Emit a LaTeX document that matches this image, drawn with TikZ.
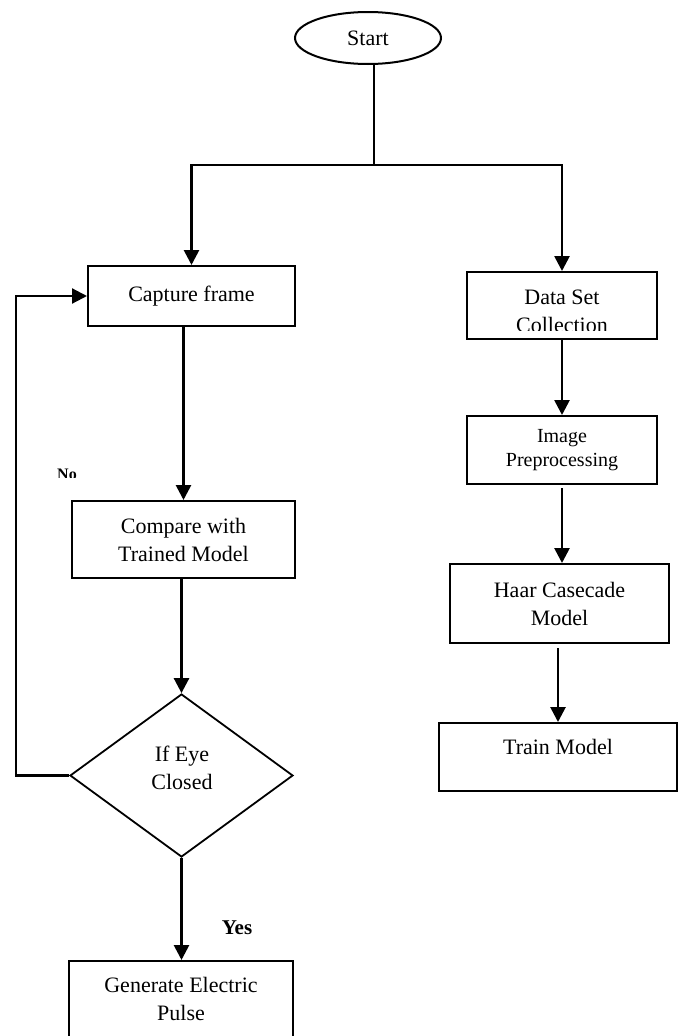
\documentclass[tikz,border=0pt]{standalone}
\usepackage{fontspec}
\setmainfont{Liberation Serif}
\usetikzlibrary{arrows.meta,shapes.geometric}
\begin{document}
\begin{tikzpicture}[x=1pt,y=-1pt,
  box/.style={draw, line width=2pt, rectangle, inner sep=0pt},
  txt/.style={font=\fontsize{22}{28}\selectfont, align=center, inner sep=0pt},
  smalltxt/.style={font=\fontsize{20}{24}\selectfont, align=center, inner sep=0pt},
  conn/.style={line width=2.7pt},
  arr/.style={conn, -{Triangle[width=15pt,length=15pt]}},
  looparr/.style={line width=2.2pt, -{Triangle[width=15pt,length=15pt]}},
  lbl/.style={font=\bfseries\fontsize{21}{25}\selectfont, inner sep=0pt}]
\useasboundingbox (0,0) rectangle (680,1036);
\clip (0,0) rectangle (680,1036);

% shapes
\node[draw, ellipse, line width=2pt, minimum width=146pt, minimum height=52pt, inner sep=0pt, txt] (start) at (368,38) {Start};
\node[box, minimum width=207pt, minimum height=60pt, txt] (capture) at (191.5,296) {Capture frame};
\node[box, minimum width=190pt, minimum height=67pt] (dataset) at (562,305.5) {};
\begin{scope}
  \clip (470,274) rectangle (655,330);
  \node[txt] (datasettext) at (562,311) {Data Set\\Collection};
\end{scope}
\node[box, minimum width=190pt, minimum height=68pt, smalltxt] (image) at (562,450) {Image\\Preprocessing};
\node[box, minimum width=219pt, minimum height=79pt, txt] (haar) at (559.5,603.5) {Haar Casecade\\Model};
\node[box, minimum width=238pt, minimum height=68pt] (train) at (558,757) {};
\node[txt] (traintext) at (558,747) {Train Model};
\node[box, minimum width=223pt, minimum height=77pt, txt] (compare) at (183.5,539.5) {Compare with\\Trained Model};
\node[draw, diamond, line width=1.8pt, minimum width=223pt, minimum height=163pt, inner sep=0pt] (decision) at (181.5,775.5) {};
\node[txt] (decisiontext) at (182,768) {If Eye\\Closed};
\node[box, minimum width=224pt, minimum height=89pt] (generate) at (181,1005.5) {};
\node[txt] (generatetext) at (181,999) {Generate Electric\\Pulse};

% labels
\begin{scope}
  \clip (40,455) rectangle (110,477);
  \node[font=\bfseries\fontsize{16}{20}\selectfont, inner sep=0pt, anchor=base] (nolabel) at (67,479) {No};
\end{scope}
\node[lbl] (yeslabel) at (237,928) {Yes};

% connectors
\coordinate (jn) at (374,165);
\draw[conn] (start.south -| jn) -- (jn);
\draw[arr] (jn) -| (capture.north);
\draw[arr] (jn) -| (dataset.north);
\draw[arr] (dataset.south) -- (dataset.south |- image.north);
\draw[arr, shorten <=3pt] (image.south) -- (image.south |- haar.north);
\draw[arr, shorten <=4pt] (haar.south -| train.north) -- (train.north);
\draw[arr] (compare.north |- capture.south) -- (compare.north);
\draw[arr] (decision.north |- compare.south) -- (decision.north);
\draw[arr] (decision.south) -- (decision.south |- generate.north);
\draw[looparr] (decision.west) -- ++(-53,0) |- (capture.west);
\end{tikzpicture}
\end{document}
